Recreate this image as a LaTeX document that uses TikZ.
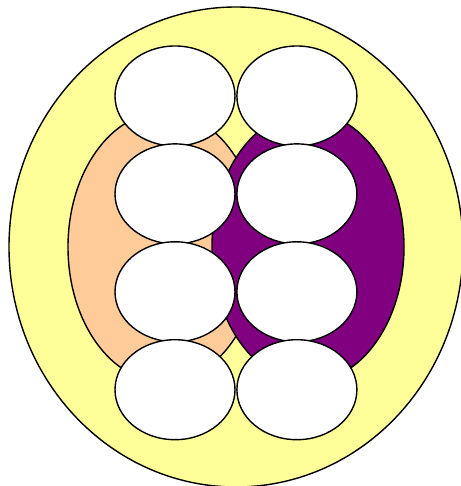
\documentclass[tikz,border=0pt]{standalone}
\usepackage{tikz}
\usetikzlibrary{positioning, shapes.geometric}
\definecolor{ring_col}{RGB}{255, 255, 153}
\definecolor{lobe_l_col}{RGB}{255, 204, 153}
\definecolor{lobe_r_col}{RGB}{128, 0, 128}

\begin{document}
\begin{tikzpicture}[
    x=1pt, y=1pt,
    shp/.style={draw, ellipse, inner sep=0pt, line width=1.4pt},
    ring/.style={shp, fill=ring_col, minimum width=454pt, minimum height=480pt},
    lobe/.style={shp, minimum width=192pt, minimum height=270pt},
    cell/.style={shp, fill=white, minimum width=120pt, minimum height=100pt},
]
  \useasboundingbox (0,0) rectangle (460,486);

  \node[ring] (outer) at (236,239) {};
  \node[lobe, fill=lobe_l_col] (lobeL) at (164,239) {};
  \node[lobe, fill=lobe_r_col] (lobeR) at (308,239) {};

  \node[cell] (a1) at (175,390) {};
  \node[cell, right=0.5pt of a1] (b1) {};
  \node[cell, below=-3.5pt of a1] (a2) {};
  \node[cell, right=0.5pt of a2] (b2) {};
  \node[cell, below=-3.5pt of a2] (a3) {};
  \node[cell, right=0.5pt of a3] (b3) {};
  \node[cell, below=-3.5pt of a3] (a4) {};
  \node[cell, right=0.5pt of a4] (b4) {};
\end{tikzpicture}
\end{document}
